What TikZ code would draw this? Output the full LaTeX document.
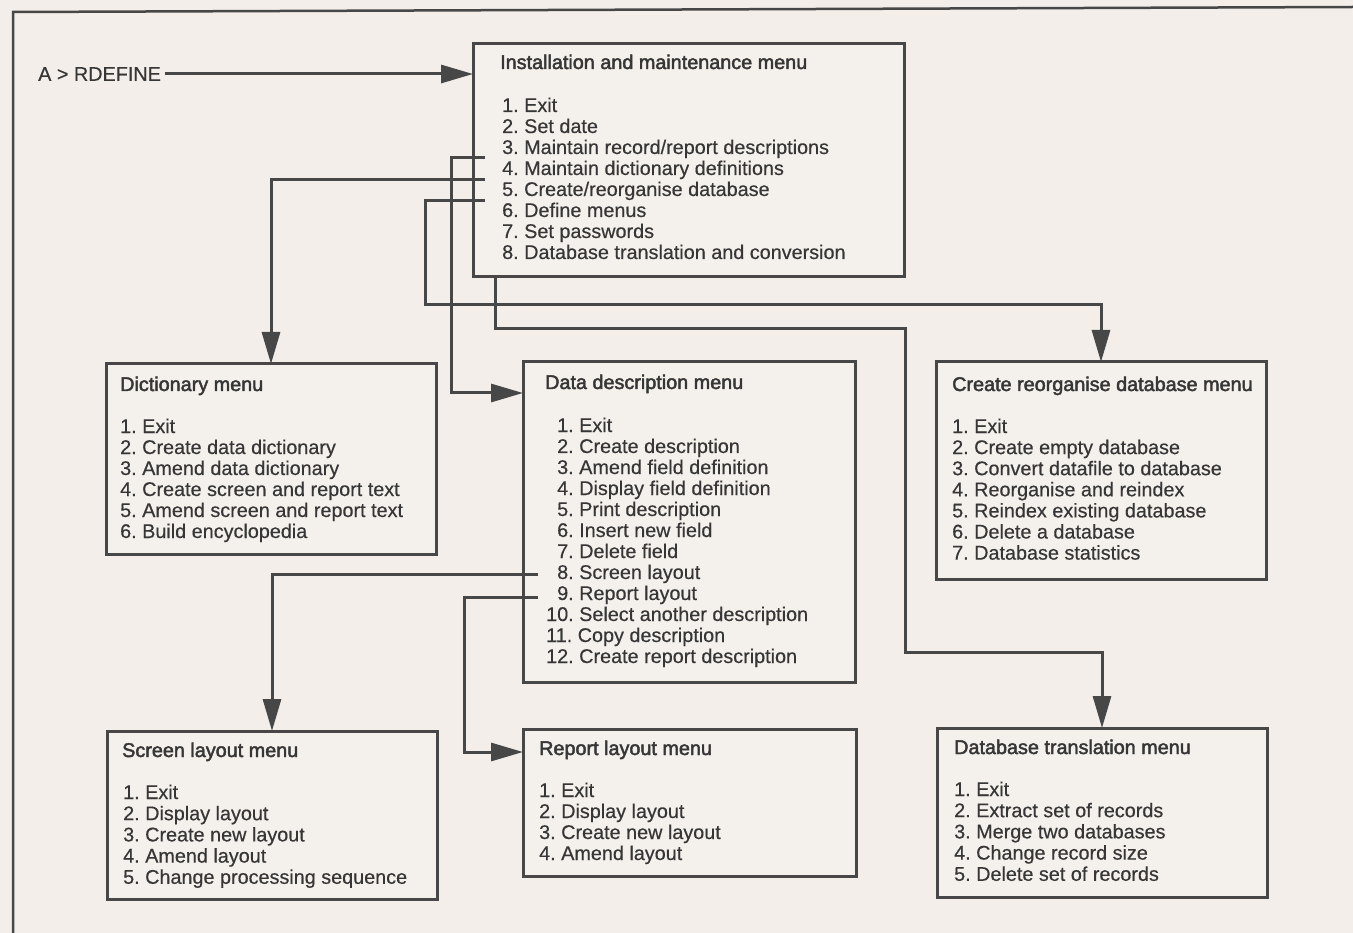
\documentclass[tikz,border=0pt]{standalone}
\usepackage{fontspec}
\setmainfont{Liberation Sans}[FakeBold=0.4]
\newfontfamily\headfont{Liberation Sans}[FakeBold=2.2]
\usetikzlibrary{arrows.meta}
\definecolor{bg}{HTML}{F3EEEA}
\definecolor{ink}{HTML}{474747}
\definecolor{txt}{HTML}{363636}
\definecolor{boxfill}{HTML}{F4F1EC}
\begin{document}
\frenchspacing
\begin{tikzpicture}[x=1pt,y=-1pt,
  menubox/.style={draw=ink, line width=3pt, fill=boxfill, anchor=north west, inner sep=0pt, outer sep=0pt},
  conn/.style={draw=ink, line width=3pt},
  arr/.style={-{Triangle[length=32pt,width=18pt]}},
  item/.style={anchor=base west, inner sep=0pt, text=txt, font=\fontsize{19.8}{21}\selectfont},
  head/.style={item, font=\fontsize{19.8}{21}\selectfont\headfont}]
\useasboundingbox (0,0) rectangle (1353,933);
\fill[bg] (0,0) rectangle (1353,933);
% outer frame (top and left edges visible)
\draw[ink, line width=2.5pt] (13,933) -- (13,12) -- (1353,7);

% boxes
\node[menubox, minimum width=431pt, minimum height=233pt] (inst)   at (473,44)  {};
\node[menubox, minimum width=330pt, minimum height=190pt] (dict)   at (106,364) {};
\node[menubox, minimum width=332pt, minimum height=320pt] (dd)     at (523,362) {};
\node[menubox, minimum width=330pt, minimum height=217pt] (creat)  at (936,362) {};
\node[menubox, minimum width=330pt, minimum height=168pt] (screen) at (107,731) {};
\node[menubox, minimum width=333pt, minimum height=147pt] (report) at (523,729) {};
\node[menubox, minimum width=330pt, minimum height=169pt] (trans)  at (937,728) {};

% headings
\node[head] (inst-h)   at (500,69)  {Installation and maintenance menu};
\node[head] (dict-h)   at (120,391) {Dictionary menu};
\node[head] (dd-h)     at (545,389) {Data description menu};
\node[head] (creat-h)  at (952,391) {Create reorganise database menu};
\node[head] (screen-h) at (122,757) {Screen layout menu};
\node[head] (report-h) at (539,755) {Report layout menu};
\node[head] (trans-h)  at (954,754) {Database translation menu};

% items
\foreach \t [count=\i] in {Exit,Set date,Maintain record/report descriptions,Maintain dictionary definitions,Create/reorganise database,Define menus,Set passwords,Database translation and conversion}
  \node[item] (inst-\i) at (502,{112+21*(\i-1)}) {\i. \t};
\foreach \t [count=\i] in {Exit,Create data dictionary,Amend data dictionary,Create screen and report text,Amend screen and report text,Build encyclopedia}
  \node[item] (dict-\i) at (120,{433+21*(\i-1)}) {\i. \t};
\foreach \t [count=\i] in {Exit,Create description,Amend field definition,Display field definition,Print description,Insert new field,Delete field,Screen layout,Report layout,Select another description,Copy description,Create report description}
  \node[item] (dd-\i) at (546,{432+21*(\i-1)}) {\ifnum\i<10 \hphantom{1}\fi\i. \t};
\foreach \t [count=\i] in {Exit,Create empty database,Convert datafile to database,Reorganise and reindex,Reindex existing database,Delete a database,Database statistics}
  \node[item] (creat-\i) at (952,{433+21.1*(\i-1)}) {\i. \t};
\foreach \t [count=\i] in {Exit,Display layout,Create new layout,Amend layout,Change processing sequence}
  \node[item] (screen-\i) at (123,{799+21.2*(\i-1)}) {\i. \t};
\foreach \t [count=\i] in {Exit,Display layout,Create new layout,Amend layout}
  \node[item] (report-\i) at (539,{797+21*(\i-1)}) {\i. \t};
\foreach \t [count=\i] in {Exit,Extract set of records,Merge two databases,Change record size,Delete set of records}
  \node[item] (trans-\i) at (954,{796+21.2*(\i-1)}) {\i. \t};

% command line
\node[item, anchor=west] (cmd) at (38,74) {A > RDEFINE};

% connector start points
\coordinate (s3) at (485,158);
\coordinate (s4) at (485,180);
\coordinate (s5) at (485,201);
\coordinate (s8) at (495,277);
\coordinate (d8) at (538,574);
\coordinate (d9) at (538,597);

% connectors
\draw[conn,arr] ([xshift=4pt]cmd.east) -- (cmd.east -| inst.west);
\draw[conn,arr] (s3) -| (451,393) -- (dd.west |- 0,393);
\draw[conn,arr] (s4) -| (dict.north);
\draw[conn,arr] (s5) -| (425,305) -| (creat.north);
\draw[conn,arr] (s8) -- (495,329) -| (905,652) -| (trans.north);
\draw[conn,arr] (d8) -| (screen.north);
\draw[conn,arr] (d9) -| (464,752) -- (report.west |- 0,752);
\end{tikzpicture}
\end{document}
